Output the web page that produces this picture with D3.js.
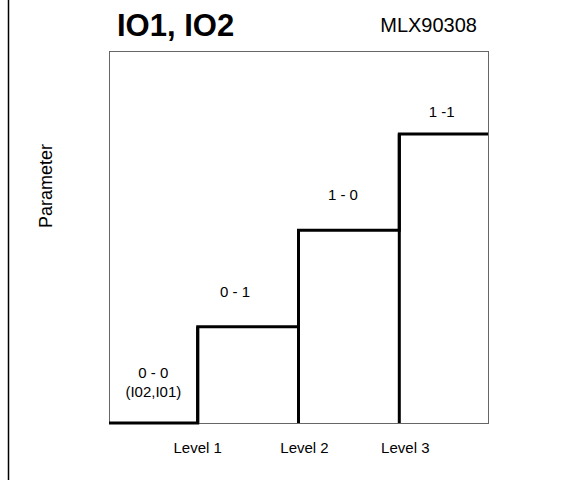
<!DOCTYPE html>
<html>
<head>
<meta charset="utf-8">
<script src="https://cdn.jsdelivr.net/npm/d3@7"></script>
<style>
  body { margin: 0; background: #fff; }
  text { font-family: Arial, "Liberation Sans", sans-serif; fill: #000; }
</style>
</head>
<body>
<div id="chart"></div>
<script>
// data
var levels = ["Level 1", "Level 2", "Level 3"];
var stepValues = [0, 1, 2, 3];               // output code per region
var stepCodes = ["0 - 0", "0 - 1", "1 - 0", "1 -1"];
var xExtent = [0.12, 3.88];
var yExtent = [0, 3.86];

(function() {
    var width = 581, height = 480;
    var plot = { left: 109, right: 488, top: 51, bottom: 423 };

    var svg = d3.select("#chart").append("svg")
        .attr("width", width)
        .attr("height", height);

    var x = d3.scaleLinear().domain(xExtent).range([plot.left, plot.right]);
    var y = d3.scaleLinear().domain(yExtent).range([plot.bottom, plot.top]);

    // page border on the left
    svg.append("line")
        .attr("x1", 8.5).attr("x2", 8.5)
        .attr("y1", 0).attr("y2", height)
        .attr("stroke", "#000")
        .attr("stroke-width", 1.5);

    // plot frame
    svg.append("rect")
        .attr("x", plot.left + 0.5)
        .attr("y", plot.top + 0.5)
        .attr("width", plot.right - plot.left)
        .attr("height", plot.bottom - plot.top)
        .attr("fill", "none")
        .attr("stroke", "#666")
        .attr("stroke-width", 1);

    // threshold drop lines, from each step down to the baseline
    svg.selectAll(".drop")
        .data(levels)
        .enter().append("line")
        .attr("class", "drop")
        .attr("x1", function(d, i) { return x(i + 1); })
        .attr("x2", function(d, i) { return x(i + 1); })
        .attr("y1", function(d, i) { return y(stepValues[i + 1]); })
        .attr("y2", y(0))
        .attr("stroke", "#000")
        .attr("stroke-width", 3);

    // step function: region i spans [i, i+1] clipped to the extent
    var pts = [];
    stepValues.forEach(function(v, i) {
        var x0 = Math.max(i, xExtent[0]), x1 = Math.min(i + 1, xExtent[1]);
        pts.push([x0, v]);
        pts.push([x1, v]);
    });

    var line = d3.line()
        .x(function(d) { return x(d[0]); })
        .y(function(d) { return y(d[1]); });

    svg.append("path")
        .datum(pts)
        .attr("d", line)
        .attr("fill", "none")
        .attr("stroke", "#000")
        .attr("stroke-width", 3)
        .attr("stroke-linejoin", "miter");

    // level labels under the thresholds
    var levelDx = [0, 6, 6];
    svg.selectAll(".level")
        .data(levels)
        .enter().append("text")
        .attr("class", "level")
        .attr("x", function(d, i) { return x(i + 1) + levelDx[i]; })
        .attr("y", 453)
        .attr("text-anchor", "middle")
        .style("font-size", "15px")
        .text(function(d) { return d; });

    // code labels above each step
    var codeDx = [0, -13, -6, -2];
    var codeDy = [45, 30, 30, 17];
    svg.selectAll(".code")
        .data(stepCodes)
        .enter().append("text")
        .attr("class", "code")
        .attr("x", function(d, i) {
            var x0 = Math.max(i, xExtent[0]), x1 = Math.min(i + 1, xExtent[1]);
            return x((x0 + x1) / 2) + codeDx[i];
        })
        .attr("y", function(d, i) { return y(stepValues[i]) - codeDy[i]; })
        .attr("text-anchor", "middle")
        .style("font-size", "15px")
        .text(function(d) { return d; });

    svg.append("text")
        .attr("x", x(0.56))
        .attr("y", y(0) - 26)
        .attr("text-anchor", "middle")
        .style("font-size", "15px")
        .text("(I02,I01)");

    // y axis label
    svg.append("text")
        .attr("transform", "translate(52,186) rotate(-90)")
        .attr("text-anchor", "middle")
        .style("font-size", "18px")
        .text("Parameter");

    // titles
    svg.append("text")
        .attr("x", 117)
        .attr("y", 36)
        .style("font-size", "31px")
        .style("font-weight", "bold")
        .text("IO1, IO2");

    svg.append("text")
        .attr("x", 477)
        .attr("y", 32)
        .attr("text-anchor", "end")
        .style("font-size", "20px")
        .text("MLX90308");
})();
</script>
</body>
</html>
